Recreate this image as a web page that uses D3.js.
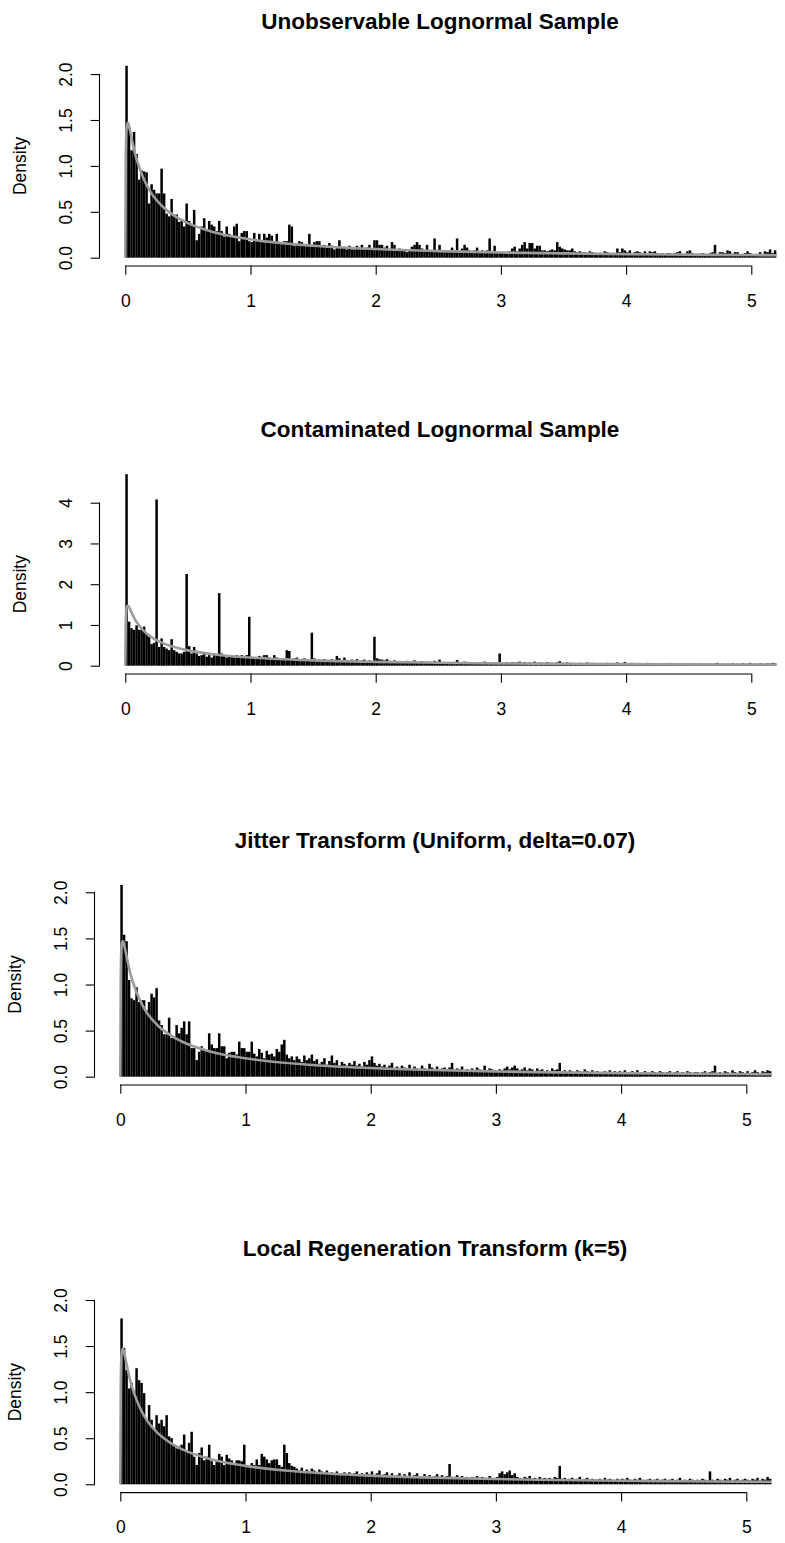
<!DOCTYPE html>
<html><head><meta charset="utf-8">
<script src="https://cdn.jsdelivr.net/npm/d3@7/dist/d3.min.js"></script>
<style>
html,body{margin:0;padding:0;background:#fff;}
svg text{font-family:"Liberation Sans",Arial,Helvetica,sans-serif;fill:#000;}
</style></head>
<body>
<svg id="chart" width="785" height="1543"></svg>
<script>
// ---- data ----
const binWidth = 0.02;
const titles = ["Unobservable Lognormal Sample","Contaminated Lognormal Sample","Jitter Transform (Uniform, delta=0.07)","Local Regeneration Transform (k=5)"];
const xTicks = [0,1,2,3,4,5];
const yTicksSmall = [0,0.5,1,1.5,2];
const yTicksBig = [0,1,2,3,4];
const yLabel = "Density";

const unobservedDensity = [
2.09,1.41,1.17,1.37,1.13,0.85,0.95,0.94,0.93,0.59,
0.80,0.74,0.70,0.70,0.97,0.70,0.48,0.45,0.64,0.47,
0.47,0.39,0.41,0.34,0.59,0.40,0.37,0.52,0.19,0.26,
0.34,0.43,0.30,0.40,0.36,0.34,0.29,0.40,0.29,0.23,
0.34,0.26,0.23,0.34,0.37,0.18,0.27,0.29,0.29,0.18,
0.17,0.27,0.18,0.26,0.18,0.26,0.22,0.26,0.24,0.18,
0.26,0.17,0.17,0.18,0.18,0.36,0.34,0.13,0.14,0.18,
0.17,0.14,0.14,0.26,0.14,0.17,0.18,0.18,0.13,0.14,
0.11,0.16,0.13,0.09,0.11,0.19,0.11,0.11,0.09,0.13,
0.09,0.09,0.13,0.11,0.14,0.09,0.11,0.14,0.09,0.19,
0.19,0.14,0.14,0.11,0.13,0.09,0.17,0.14,0.08,0.10,
0.08,0.08,0.06,0.08,0.12,0.14,0.17,0.14,0.10,0.07,
0.14,0.08,0.08,0.21,0.08,0.14,0.07,0.07,0.08,0.08,
0.11,0.08,0.21,0.06,0.10,0.14,0.11,0.08,0.07,0.08,
0.11,0.07,0.08,0.06,0.08,0.21,0.07,0.13,0.07,0.06,
0.06,0.05,0.04,0.07,0.10,0.12,0.07,0.10,0.14,0.17,
0.10,0.16,0.16,0.10,0.13,0.13,0.08,0.08,0.07,0.08,
0.09,0.08,0.17,0.12,0.10,0.09,0.08,0.08,0.10,0.07,
0.06,0.07,0.06,0.06,0.05,0.07,0.06,0.05,0.04,0.05,
0.04,0.07,0.06,0.04,0.04,0.05,0.10,0.06,0.10,0.08,
0.06,0.08,0.05,0.06,0.07,0.06,0.05,0.07,0.05,0.07,
0.06,0.07,0.05,0.04,0.05,0.04,0.05,0.05,0.03,0.05,
0.06,0.07,0.04,0.04,0.07,0.08,0.05,0.04,0.03,0.04,
0.05,0.04,0.03,0.05,0.06,0.14,0.04,0.06,0.06,0.05,
0.08,0.07,0.04,0.06,0.06,0.04,0.04,0.05,0.07,0.05,
0.04,0.03,0.04,0.06,0.04,0.07,0.06,0.09,0.05,0.08];

const contaminatedDensity = [
4.70,1.08,0.92,0.88,0.99,0.88,0.89,0.96,0.79,0.71,
0.53,0.56,4.08,0.46,0.67,0.46,0.42,0.38,0.65,0.38,
0.34,0.30,0.30,0.34,2.25,0.48,0.30,0.46,0.30,0.24,
0.26,0.30,0.22,0.26,0.20,0.30,0.26,1.78,0.30,0.26,
0.20,0.26,0.24,0.20,0.26,0.20,0.26,0.24,0.26,1.20,
0.20,0.18,0.20,0.24,0.22,0.26,0.26,0.20,0.18,0.26,
0.20,0.16,0.18,0.16,0.38,0.36,0.16,0.18,0.20,0.16,
0.15,0.18,0.15,0.16,0.81,0.18,0.13,0.15,0.13,0.16,
0.13,0.11,0.16,0.13,0.24,0.18,0.13,0.20,0.13,0.11,
0.15,0.13,0.16,0.11,0.13,0.15,0.11,0.13,0.11,0.71,
0.18,0.16,0.15,0.13,0.16,0.12,0.10,0.13,0.09,0.11,
0.10,0.09,0.12,0.08,0.10,0.13,0.09,0.08,0.11,0.07,
0.10,0.08,0.09,0.12,0.08,0.15,0.07,0.09,0.08,0.07,
0.09,0.08,0.14,0.07,0.09,0.10,0.08,0.07,0.09,0.08,
0.07,0.09,0.08,0.10,0.07,0.08,0.06,0.09,0.07,0.30,
0.07,0.06,0.08,0.06,0.09,0.07,0.08,0.10,0.06,0.09,
0.06,0.08,0.07,0.10,0.06,0.08,0.07,0.06,0.09,0.06,
0.07,0.06,0.08,0.11,0.07,0.06,0.08,0.06,0.07,0.05,
0.06,0.07,0.05,0.06,0.08,0.05,0.07,0.06,0.05,0.06,
0.05,0.06,0.07,0.05,0.06,0.05,0.08,0.06,0.05,0.09,
0.06,0.05,0.07,0.05,0.06,0.04,0.06,0.05,0.07,0.04,
0.05,0.06,0.04,0.05,0.06,0.04,0.05,0.07,0.04,0.05,
0.04,0.06,0.05,0.04,0.05,0.06,0.04,0.05,0.04,0.06,
0.04,0.05,0.04,0.06,0.04,0.05,0.07,0.04,0.05,0.04,
0.05,0.04,0.06,0.04,0.05,0.04,0.06,0.05,0.04,0.07,
0.04,0.05,0.04,0.06,0.05,0.04,0.06,0.05,0.07,0.06];

const jitterDensity = [
2.08,1.54,1.47,1.05,0.85,0.83,0.97,0.81,0.83,0.83,
0.72,0.81,0.90,0.86,0.96,0.61,0.56,0.46,0.46,0.64,
0.42,0.42,0.56,0.47,0.53,0.60,0.46,0.60,0.31,0.31,
0.18,0.27,0.33,0.30,0.28,0.47,0.35,0.31,0.31,0.47,
0.33,0.33,0.20,0.26,0.27,0.27,0.24,0.38,0.31,0.31,
0.27,0.27,0.38,0.25,0.22,0.30,0.26,0.20,0.28,0.24,
0.25,0.22,0.30,0.27,0.35,0.40,0.24,0.20,0.22,0.18,
0.22,0.19,0.16,0.23,0.18,0.20,0.24,0.17,0.19,0.14,
0.16,0.20,0.13,0.17,0.23,0.15,0.18,0.12,0.16,0.14,
0.12,0.15,0.13,0.17,0.12,0.14,0.11,0.16,0.13,0.18,
0.22,0.15,0.12,0.14,0.11,0.13,0.10,0.12,0.15,0.09,
0.11,0.08,0.12,0.10,0.09,0.13,0.08,0.11,0.09,0.07,
0.12,0.09,0.08,0.14,0.10,0.08,0.11,0.07,0.09,0.10,
0.08,0.10,0.15,0.07,0.09,0.08,0.11,0.07,0.08,0.06,
0.09,0.07,0.10,0.08,0.06,0.12,0.07,0.09,0.08,0.07,
0.06,0.08,0.07,0.09,0.11,0.08,0.10,0.12,0.09,0.07,
0.08,0.10,0.07,0.09,0.08,0.06,0.09,0.07,0.08,0.06,
0.07,0.06,0.09,0.07,0.08,0.15,0.06,0.07,0.05,0.07,
0.06,0.05,0.07,0.06,0.05,0.08,0.06,0.05,0.07,0.05,
0.06,0.05,0.04,0.06,0.05,0.07,0.05,0.06,0.04,0.06,
0.05,0.07,0.05,0.04,0.06,0.05,0.07,0.05,0.04,0.06,
0.05,0.04,0.06,0.05,0.04,0.06,0.05,0.04,0.05,0.06,
0.04,0.05,0.06,0.04,0.05,0.04,0.06,0.05,0.04,0.05,
0.05,0.04,0.05,0.06,0.04,0.05,0.06,0.12,0.04,0.05,
0.04,0.06,0.05,0.04,0.07,0.05,0.04,0.06,0.05,0.04,
0.06,0.04,0.05,0.07,0.05,0.04,0.06,0.05,0.07,0.06];

const regenerationDensity = [
1.80,1.48,1.24,1.04,1.10,1.00,1.26,1.13,1.10,0.99,
0.70,0.86,0.70,0.59,0.75,0.66,0.70,0.63,0.75,0.52,
0.50,0.43,0.39,0.41,0.43,0.54,0.35,0.45,0.57,0.30,
0.21,0.34,0.40,0.26,0.30,0.43,0.25,0.21,0.25,0.33,
0.30,0.21,0.32,0.28,0.26,0.22,0.26,0.26,0.25,0.43,
0.19,0.19,0.23,0.21,0.27,0.21,0.33,0.30,0.27,0.23,
0.26,0.27,0.27,0.21,0.19,0.43,0.34,0.23,0.20,0.19,
0.17,0.15,0.18,0.14,0.16,0.13,0.17,0.15,0.12,0.16,
0.14,0.12,0.15,0.11,0.13,0.10,0.14,0.12,0.10,0.13,
0.11,0.13,0.10,0.12,0.14,0.09,0.12,0.10,0.13,0.11,
0.14,0.10,0.12,0.15,0.09,0.11,0.13,0.10,0.12,0.09,
0.10,0.12,0.08,0.11,0.09,0.13,0.08,0.10,0.12,0.08,
0.09,0.11,0.08,0.10,0.07,0.09,0.11,0.08,0.10,0.07,
0.09,0.22,0.08,0.07,0.10,0.08,0.09,0.07,0.08,0.06,
0.08,0.07,0.09,0.06,0.08,0.07,0.06,0.09,0.07,0.06,
0.08,0.12,0.14,0.11,0.13,0.15,0.10,0.12,0.08,0.07,
0.06,0.08,0.07,0.09,0.06,0.07,0.05,0.08,0.06,0.07,
0.06,0.07,0.05,0.08,0.07,0.20,0.06,0.07,0.05,0.06,
0.07,0.05,0.06,0.08,0.05,0.06,0.07,0.05,0.06,0.05,
0.05,0.06,0.04,0.07,0.05,0.06,0.05,0.04,0.06,0.05,
0.06,0.05,0.07,0.05,0.04,0.06,0.05,0.07,0.05,0.04,
0.05,0.06,0.04,0.05,0.06,0.04,0.05,0.06,0.04,0.05,
0.06,0.04,0.05,0.07,0.04,0.05,0.04,0.06,0.05,0.04,
0.05,0.04,0.06,0.05,0.04,0.14,0.05,0.04,0.06,0.05,
0.04,0.06,0.05,0.07,0.04,0.05,0.06,0.04,0.05,0.06,
0.05,0.04,0.06,0.05,0.07,0.04,0.06,0.05,0.08,0.06];

// reference density curve (grey), read at selected x positions
const curveX = [0,0.004,0.01,0.018,0.025,0.04,0.06,0.08,0.1,0.15,0.2,0.3,0.4,0.5,0.7,1,1.5,2,2.5,3,3.5,4,4.5,5,5.2];
const curveY = [0,1.10,1.41,1.47,1.46,1.37,1.24,1.12,1.03,0.85,0.72,0.555,0.45,0.376,0.28,0.20,0.13,0.094,0.072,0.057,0.047,0.039,0.033,0.029,0.027];

// ---- layout ----
const panels = [
  {data: unobservedDensity,   title: titles[0], yTicks: yTicksSmall, fmt: d3.format(".1f"), x0:125.3, y0:257.7,  ky:91.8,  titleX:440},
  {data: contaminatedDensity, title: titles[1], yTicks: yTicksBig,   fmt: d3.format("d"),   x0:125.3, y0:665.7,  ky:40.75, titleX:440},
  {data: jitterDensity,       title: titles[2], yTicks: yTicksSmall, fmt: d3.format(".1f"), x0:120.3, y0:1076.7, ky:92.2,  titleX:435},
  {data: regenerationDensity, title: titles[3], yTicks: yTicksSmall, fmt: d3.format(".1f"), x0:120.3, y0:1484.3, ky:92.15, titleX:435}
];
const kx = 125.2;
const svg = d3.select("#chart");
const FS = 17.5;

panels.forEach(p => {
  const g = svg.append("g");
  const x = d3.scaleLinear().domain([0,1]).range([p.x0, p.x0 + kx]);
  const y = d3.scaleLinear().domain([0,1]).range([p.y0, p.y0 - p.ky]);
  const bins = p.data.map((v,i) => ({x0: i*binWidth, x1: (i+1)*binWidth, v}));

  g.append("g").selectAll("rect").data(bins).join("rect")
    .attr("x", d => x(d.x0))
    .attr("width", d => x(d.x1) - x(d.x0))
    .attr("y", d => y(d.v))
    .attr("height", d => y(0) - y(d.v))
    .attr("fill", "#000");

  const pts = curveX.map((cx,i) => [cx, curveY[i]]);
  g.append("path").datum(pts)
    .attr("d", d3.line().x(d => x(d[0])).y(d => y(d[1])).curve(d3.curveMonotoneX))
    .attr("fill","none").attr("stroke","#9c9c9c").attr("stroke-width",2.6);

  // x axis
  const axY = p.y0 + 7.8;
  const xa = d3.axisBottom(x).tickValues(xTicks).tickSize(9.3).tickPadding(20).tickFormat(d3.format("d"));
  const gx = g.append("g").attr("transform",`translate(0,${axY})`).call(xa);
  gx.select(".domain").attr("d", `M${x(xTicks[0])},0.5H${x(xTicks[xTicks.length-1])}`).attr("stroke","#000").attr("stroke-width",1.1);
  gx.selectAll(".tick line").attr("stroke","#000").attr("stroke-width",1.1);
  gx.selectAll(".tick text").attr("font-size",FS).attr("font-family","Liberation Sans, Arial, sans-serif").attr("dy",null).attr("y",41.2).attr("fill","#000");

  // y axis
  const axX = p.x0 - 25.3;
  const ya = d3.axisLeft(y).tickValues(p.yTicks).tickSize(9.3).tickFormat(p.fmt);
  const gy = g.append("g").attr("transform",`translate(${axX},0)`).call(ya);
  const t0 = p.yTicks[0], t1 = p.yTicks[p.yTicks.length-1];
  gy.select(".domain").attr("d", `M-0.5,${y(t0)}V${y(t1)}`).attr("stroke","#000").attr("stroke-width",1.1);
  gy.selectAll(".tick line").attr("stroke","#000").attr("stroke-width",1.1);
  gy.selectAll(".tick text").attr("font-size",FS).attr("font-family","Liberation Sans, Arial, sans-serif")
    .attr("x",null).attr("dy",null).attr("text-anchor","middle")
    .attr("transform","translate(-28,0) rotate(-90)").attr("fill","#000");

  g.append("text").attr("transform",`translate(${axX-74},${(y(0)+y(t1))/2})) rotate(-90)`.replace('))',')'))
    .attr("text-anchor","middle").attr("font-size",FS).text(yLabel);

  g.append("text").attr("x",p.titleX).attr("y",p.y0-228.5).attr("text-anchor","middle")
    .attr("font-size",22.5).attr("font-weight","bold").text(p.title);
});
</script>
</body></html>
